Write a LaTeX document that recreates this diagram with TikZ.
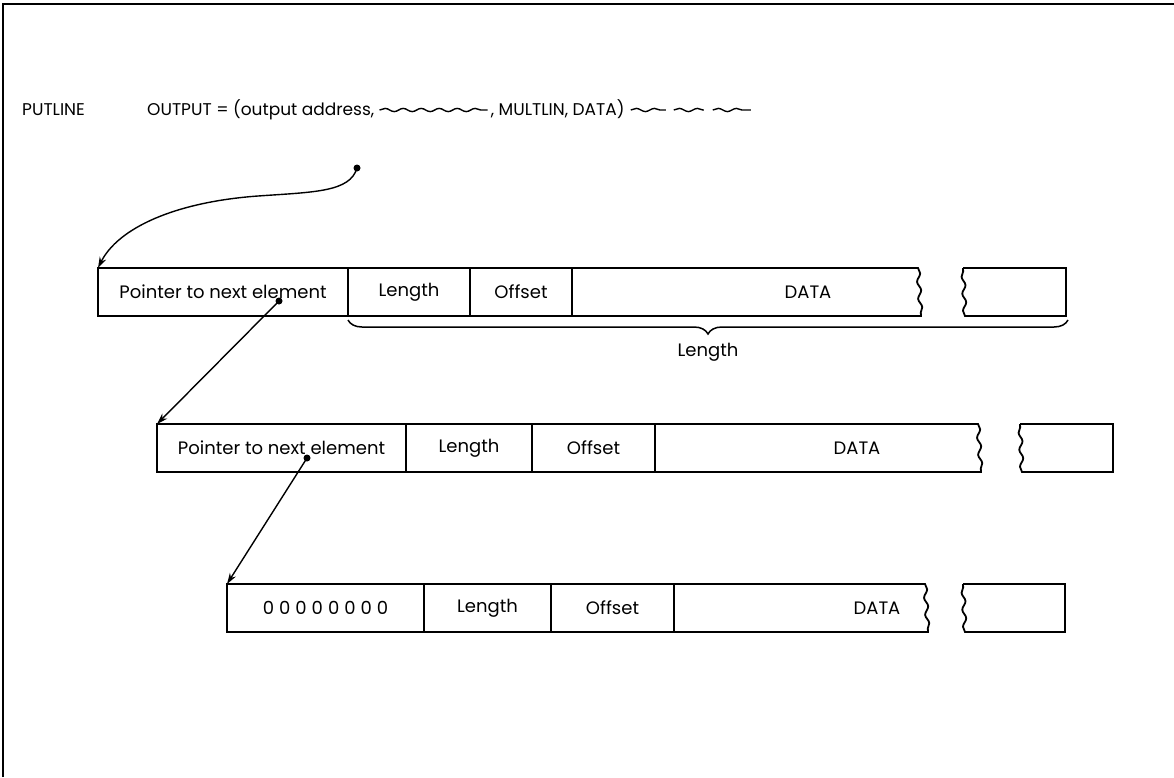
\documentclass[tikz,border=0pt]{standalone}
\usepackage{fontspec}
\setmainfont{Poppins}
\usetikzlibrary{arrows.meta, positioning}
\usetikzlibrary{decorations.pathmorphing, decorations.pathreplacing}

\tikzset{
	cell/.style={draw, line width=1.8pt, minimum height=48pt, inner sep=0pt, outer sep=0pt, anchor=north west},
	tag/.style={inner sep=0pt},
	call/.style={inner sep=0pt, anchor=base west, font=\fontsize{17}{20}\selectfont},
	tear/.style={decoration={snake, amplitude=1.8pt, segment length=17pt}},
	squig/.style={decorate, decoration={snake, amplitude=1.6pt, segment length=18pt}, line width=1.4pt},
	ptr/.style={-{Stealth[length=11pt, width=7pt]}, line width=1.4pt},
	brc/.style={decorate, decoration={brace, mirror, amplitude=14pt}, line width=1.5pt},
}

% data field after the last cell: cell name, torn x, top y
\newcommand{\dataField}[3]{
	\draw[line width=1.8pt] (#1.north east) -- (#2,#3) decorate[tear]{-- (#2+3,#3+48)} -- (#1.south east);
}
% torn-off tail of a record: left x, right x, top y
\newcommand{\recordTail}[3]{
	\draw[line width=1.8pt] (#1,#3) -- (#2,#3) -- (#2,#3+48) -- (#1+2,#3+48)
		decorate[tear]{-- (#1,#3)};
}

\begin{document}
\begin{tikzpicture}[x=1pt, y=-1pt, font=\fontsize{18}{21}\selectfont]
	\useasboundingbox (0,0) rectangle (1174,777);
	\fill[white] (0,0) rectangle (1174,777);
	\draw[line width=2.8pt] (3,777) -- (3,4) -- (1174,4);

	% macro call
	\node[call] (putline) at (22,115) {PUTLINE};
	\node[call] (outcall) at (147,115) {OUTPUT = (output address,};
	\draw[squig] ([xshift=5pt, yshift=5pt]outcall.base east) -- ++(108,0) coordinate (sqend);
	\coordinate (mstart) at (sqend |- outcall.base);
	\node[call] (multlin) at ([xshift=3pt]mstart) {, MULTLIN, DATA)};
	\foreach \a/\b in {6/41, 49/79, 88/126}
		\draw[squig] ([xshift=\a pt, yshift=5pt]multlin.base east) -- ([xshift=\b pt, yshift=5pt]multlin.base east);

	% first element
	\node[cell, minimum width=250pt] (ptrA) at (98,268) {Pointer to next element};
	\node[cell, minimum width=122pt, right=0pt of ptrA] (lenA) {Length};
	\node[cell, minimum width=102pt, right=0pt of lenA] (offA) {Offset};
	\dataField{offA}{918}{268}
	\node[tag] (dataA) at (808,292) {DATA};
	\recordTail{963}{1066}{268}
	\coordinate (brA) at (348,320);
	\coordinate (brB) at (1068,320);
	\draw[brc] (brA) -- (brB) node[tag, midway, below=22pt] (lenAll) {Length};

	% second element
	\node[cell, minimum width=249pt] (ptrB) at (157,424) {Pointer to next element};
	\node[cell, minimum width=126pt, right=0pt of ptrB] (lenB) {Length};
	\node[cell, minimum width=123pt, right=0pt of lenB] (offB) {Offset};
	\dataField{offB}{978}{424}
	\node[tag] (dataB) at (857,448) {DATA};
	\recordTail{1020}{1113}{424}

	% last element
	\node[cell, minimum width=197pt] (ptrC) at (227,584) {0\hspace{5pt}0\hspace{5pt}0\hspace{5pt}0\hspace{5pt}0\hspace{5pt}0\hspace{5pt}0\hspace{5pt}0};
	\node[cell, minimum width=127pt, right=0pt of ptrC] (lenC) {Length};
	\node[cell, minimum width=123pt, right=0pt of lenC] (offC) {Offset};
	\dataField{offC}{925}{584}
	\node[tag] (dataC) at (877,608) {DATA};
	\recordTail{963}{1065}{584}

	% pointers
	\coordinate (dotO) at (357,168);
	\coordinate (dotA) at (279,301);
	\coordinate (dotB) at (307,458);
	\foreach \d in {dotO, dotA, dotB}
		\fill (\d) circle (3.5pt);
	\draw[ptr] (dotO) .. controls (350,192) and (315,192) .. (258,196) .. controls (175,202) and (118,228) .. (ptrA.north west);
	\draw[ptr] (dotA) -- (ptrB.north west);
	\draw[ptr] (dotB) -- (ptrC.north west);
\end{tikzpicture}
\end{document}
